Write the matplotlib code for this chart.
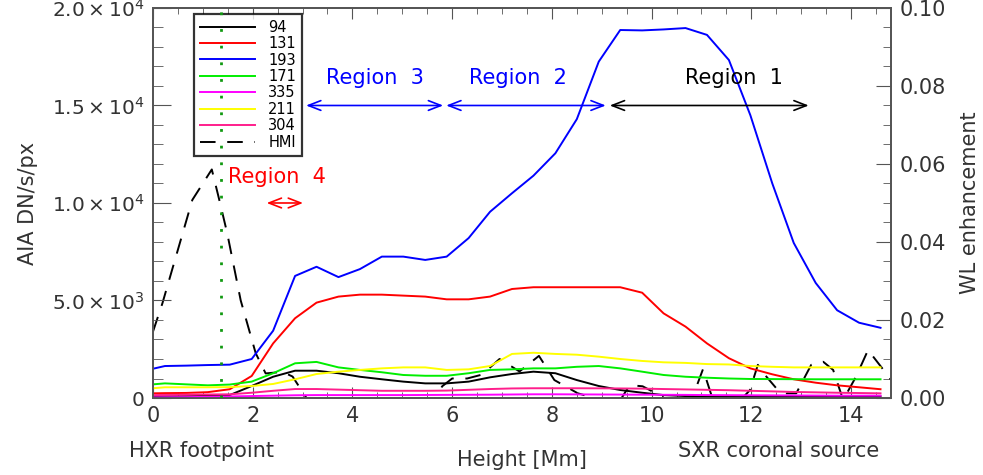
import numpy as np
import matplotlib.pyplot as plt
from matplotlib.ticker import MultipleLocator, FixedLocator, FixedFormatter

# heights along the loop (Mm)
height = [0.0, 0.24, 0.67, 1.1, 1.54, 1.98, 2.41, 2.85, 3.28, 3.72, 4.15, 4.59,
          5.02, 5.46, 5.89, 6.33, 6.76, 7.2, 7.63, 8.07, 8.5, 8.94, 9.37, 9.81,
          10.24, 10.68, 11.11, 11.55, 11.98, 12.42, 12.85, 13.29, 13.72, 14.16, 14.59]

# AIA intensities (DN/s/px)
aia_94 = [70, 80, 90, 110, 150, 615, 1090, 1400, 1400, 1270, 1090, 960,
          840, 750, 750, 840, 1060, 1230, 1350, 1270, 920, 615, 410, 270,
          150, 100, 90, 80, 80, 80, 80, 80, 80, 80, 80]
aia_131 = [240, 250, 260, 300, 450, 1130, 2800, 4090, 4890, 5200, 5300, 5300,
           5250, 5200, 5060, 5060, 5200, 5590, 5680, 5680, 5680, 5680, 5680, 5400,
           4340, 3660, 2800, 2040, 1520, 1215, 960, 785, 650, 550, 450]
aia_193 = [1500, 1640, 1660, 1690, 1710, 2000, 3450, 6260, 6730, 6200, 6610, 7250,
           7250, 7080, 7250, 8200, 9550, 10500, 11400, 12550, 14300, 17250, 18870, 18850,
           18900, 18970, 18620, 17330, 14500, 11000, 7950, 5900, 4500, 3860, 3600]
aia_171 = [700, 750, 700, 650, 690, 840, 1270, 1780, 1850, 1570, 1440, 1320,
           1180, 1140, 1140, 1270, 1440, 1470, 1520, 1520, 1600, 1640, 1520, 1350,
           1180, 1090, 1040, 1000, 975, 970, 965, 960, 960, 960, 960]
aia_335 = [35, 40, 45, 60, 80, 100, 120, 140, 150, 150, 150, 150,
           150, 155, 160, 165, 170, 180, 190, 190, 185, 180, 175, 170,
           165, 160, 150, 145, 140, 135, 130, 125, 120, 120, 120]
aia_211 = [500, 550, 550, 550, 560, 615, 720, 960, 1230, 1350, 1440, 1520,
           1570, 1570, 1440, 1470, 1640, 2260, 2320, 2260, 2220, 2120, 2000, 1900,
           1830, 1800, 1740, 1720, 1640, 1600, 1570, 1570, 1570, 1570, 1570]
aia_304 = [150, 160, 170, 180, 190, 270, 370, 460, 460, 430, 400, 370,
           370, 370, 380, 420, 460, 490, 500, 500, 500, 495, 490, 480,
           460, 440, 420, 400, 370, 340, 310, 290, 270, 255, 240]

# HMI white-light enhancement
hmi_height = [0.0, 0.19, 0.5, 0.79, 1.18, 1.33, 1.49, 1.76, 2.06, 2.26, 2.6, 2.8,
              3.13, 3.6, 4.2, 4.8, 5.3, 5.64, 5.8, 6.0, 6.3, 6.6, 6.95, 7.35,
              7.74, 8.05, 8.52, 8.99, 9.3, 9.56, 9.82, 10.22, 10.5, 10.8, 11.03, 11.23,
              11.6, 11.97, 12.13, 12.3, 12.5, 12.7, 12.9, 13.2, 13.44, 13.64, 13.84, 14.1,
              14.34, 14.68, 14.9]
hmi = [0.017, 0.0243, 0.038, 0.0508, 0.0586, 0.0508, 0.0422, 0.025, 0.0115, 0.0063, 0.0067, 0.0055,
       -0.001, -0.006, -0.008, -0.007, -0.004, -0.0005, 0.003, 0.005, 0.005, 0.006, 0.010, 0.0068,
       0.0108, 0.0046, 0.0012, -0.0005, -0.002, 0.0033, 0.003, 0.0003, -0.003, -0.0005, 0.0074, -0.0005,
       -0.003, 0.002, 0.0085, 0.0055, 0.0025, 0.0012, 0.0012, 0.0085, 0.0093, 0.0072, -0.0005, 0.0055,
       0.0123, 0.0067, 0.003]

footpoint = 1.37

series = [('94', aia_94, 'black'), ('131', aia_131, '#ff0000'), ('193', aia_193, '#0000ff'),
          ('171', aia_171, '#00ee00'), ('335', aia_335, '#ff00ff'), ('211', aia_211, '#ffff00'),
          ('304', aia_304, '#ff1e8c')]

plt.rcParams['font.family'] = 'DejaVu Sans'
tc = '#333333'

fig = plt.figure(figsize=(9.83, 4.75), dpi=100)
ax = fig.add_axes([0.1556, 0.1621, 0.9064 - 0.1556, 0.9832 - 0.1621])
ax2 = ax.twinx()

handles = []
for name, vals, col in series:
    h, = ax.plot(height, vals, color=col, lw=1.4, label=name)
    handles.append(h)
ax.axvline(footpoint, color='#119911', ls=(0, (1, 5)), lw=2, zorder=11)

h, = ax2.plot(hmi_height, hmi, color='black', lw=1.4, ls=(0, (8, 6)), label='HMI')
handles.append(h)

ax.set_xlim(0, 14.8)
ax.set_ylim(0, 20000)
ax2.set_ylim(0, 0.1)

ax.xaxis.set_major_locator(MultipleLocator(2))
ax.xaxis.set_minor_locator(MultipleLocator(0.5))
ax.yaxis.set_major_locator(FixedLocator([0, 5000, 10000, 15000, 20000]))
ax.yaxis.set_major_formatter(FixedFormatter(['0', r'$5.0\times10^{3}$', r'$1.0\times10^{4}$',
                                             r'$1.5\times10^{4}$', r'$2.0\times10^{4}$']))
ax.yaxis.set_minor_locator(MultipleLocator(1000))
ax2.yaxis.set_major_locator(MultipleLocator(0.02))
ax2.yaxis.set_minor_locator(MultipleLocator(0.005))
ax2.yaxis.set_major_formatter(plt.FuncFormatter(lambda v, p: '%.2f' % v))

for a in (ax, ax2):
    for sp in a.spines.values():
        sp.set_color('#555555')
        sp.set_linewidth(1.3)
ax.tick_params(axis='x', which='both', direction='in', top=True, colors='#555555',
               labelcolor=tc, labelsize=15, pad=6)
ax.tick_params(axis='x', which='major', length=8)
ax.tick_params(axis='x', which='minor', length=4)
ax.tick_params(axis='y', which='major', direction='in', length=13, colors='#555555',
               labelcolor=tc, labelsize=14.5, pad=6)
ax.tick_params(axis='y', which='minor', direction='in', length=7, colors='#555555')
ax2.tick_params(axis='y', which='major', direction='in', length=11, colors='#555555',
                labelcolor=tc, labelsize=15, pad=6)
ax2.tick_params(axis='y', which='minor', direction='in', length=6, colors='#555555')

ax.set_ylabel('AIA DN/s/px', fontsize=15, color=tc, labelpad=10)
ax2.set_ylabel('WL enhancement', fontsize=15, color=tc, labelpad=10)
fig.text(0.531, 0.02, 'Height [Mm]', fontsize=15, color=tc, ha='center')
fig.text(0.205, 0.038, 'HXR footpoint', fontsize=15, color=tc, ha='center')
fig.text(0.792, 0.038, 'SXR coronal source', fontsize=15, color=tc, ha='center')

# region annotations
def region(x0, x1, y, txt, tx, ty, col):
    ax.annotate('', xy=(x1, y), xytext=(x0, y),
                arrowprops=dict(arrowstyle='<->,head_length=0.9,head_width=0.35', color=col,
                                lw=1.2, shrinkA=0, shrinkB=0))
    ax.text(tx, ty, txt, color=col, fontsize=15, ha='center', va='center')

region(3.07, 5.82, 15000, 'Region  3', 4.45, 16400, '#0000ff')
region(5.88, 9.08, 15000, 'Region  2', 7.31, 16400, '#0000ff')
region(9.16, 13.15, 15000, 'Region  1', 11.66, 16400, 'black')
region(2.28, 3.01, 10000, 'Region  4', 2.48, 11350, '#ff0000')

leg = ax.legend(handles=handles, loc='upper left', bbox_to_anchor=(0.0556, 0.985),
                fontsize=10.5, frameon=True, fancybox=False, handlelength=3.8,
                labelspacing=0.1, borderpad=0.4, handletextpad=0.9, borderaxespad=0)
leg.get_frame().set_edgecolor('black')
leg.get_frame().set_linewidth(1.6)
leg.set_zorder(10)
ax.set_zorder(ax2.get_zorder() + 1)
ax.patch.set_visible(False)

fig.savefig('out.png', dpi=100)
